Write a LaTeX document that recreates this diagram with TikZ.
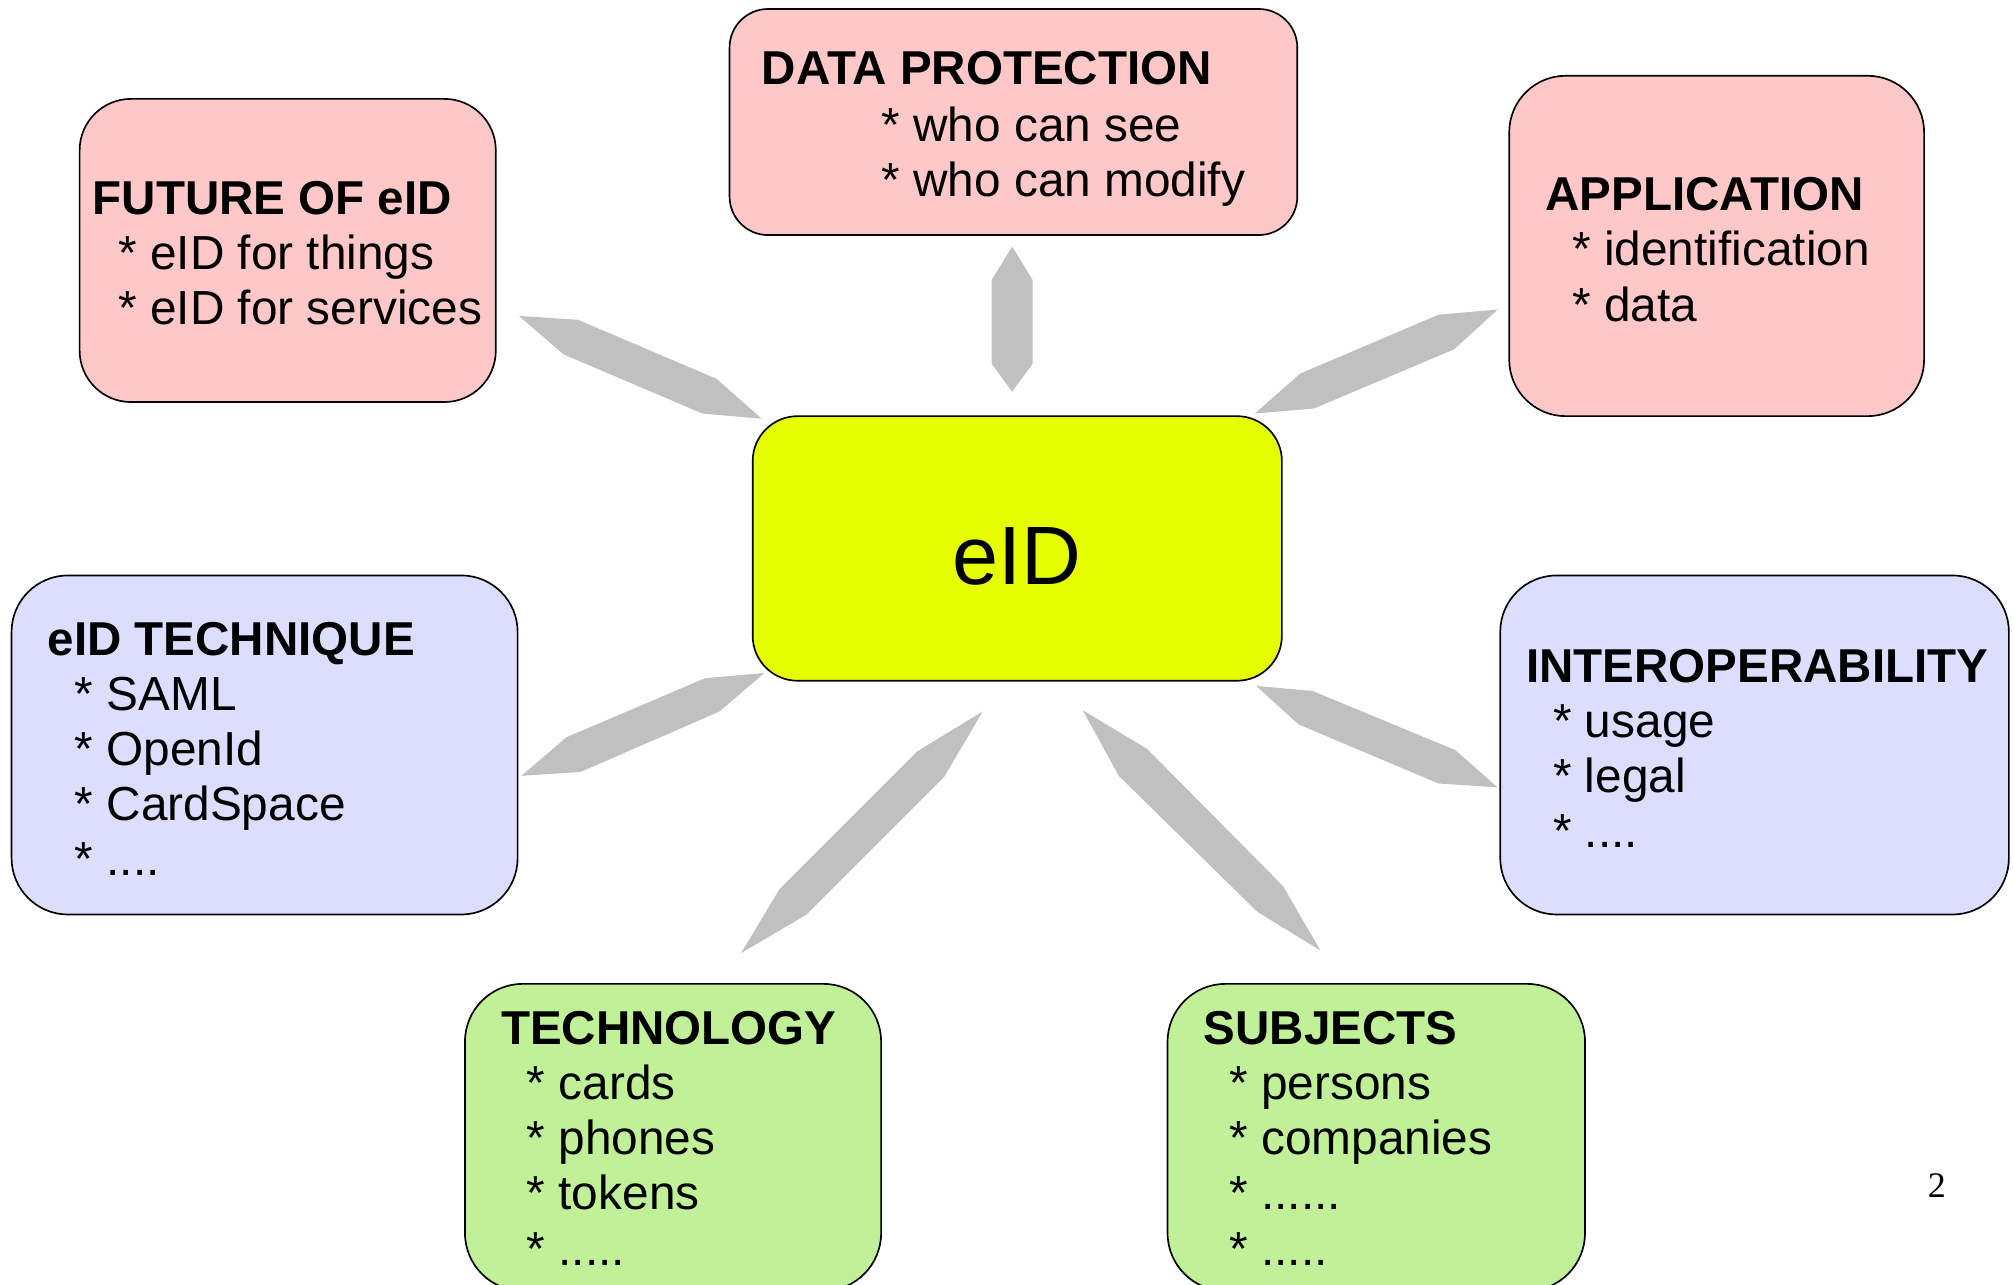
\documentclass[tikz,border=0pt]{standalone}
\usepackage{fontspec}
\setmainfont{Liberation Sans}
\newfontfamily\pagenumfont{Liberation Serif}
\definecolor{pinkbox}{RGB}{255,200,200}
\definecolor{bluebox}{RGB}{221,221,255}
\definecolor{greenbox}{RGB}{192,240,152}
\definecolor{yellowbox}{RGB}{230,255,0}
\definecolor{arrowgray}{RGB}{192,192,192}
\tikzset{
  card/.style={draw=black, line width=1.3pt, rounded corners=#1, inner sep=0pt, outer sep=0pt},
  ttl/.style={font=\bfseries\fontsize{37}{43}\selectfont, anchor=base west, inner sep=0pt},
  itm/.style={font=\fontsize{37.2}{43}\selectfont, anchor=base west, inner sep=0pt},
  blockarrow/.style={fill=arrowgray, draw=none},
}
\begin{document}
\begin{tikzpicture}[x=1pt,y=-1pt]
\clip (0,0) rectangle (1568,1000);
\fill[white] (0,0) rectangle (1568,1000);

% block arrows
\fill[blockarrow] (404,246) -- (450,249) -- (558,295) -- (593,326) -- (547,322) -- (439,276) -- cycle;
\fill[blockarrow] (788,192) -- (804,218) -- (804,283) -- (788,305) -- (772,283) -- (772,218) -- cycle;
\fill[blockarrow] (977,322) -- (1023,318) -- (1132,272) -- (1166,241) -- (1120,245) -- (1012,291) -- cycle;
\fill[blockarrow] (406,604) -- (452,601) -- (560,554) -- (595,524) -- (549,528) -- (441,574) -- cycle;
\fill[blockarrow] (765,554) -- (735,605) -- (628,712) -- (577,742) -- (607,692) -- (714,585) -- cycle;
\fill[blockarrow] (843,553) -- (893,583) -- (999,690) -- (1028,740) -- (979,710) -- (871,604) -- cycle;
\fill[blockarrow] (978,534) -- (1022,538) -- (1133,584) -- (1166,613) -- (1120,610) -- (1011,564) -- cycle;

% boxes
\node[card=40pt, fill=pinkbox, minimum width=324pt, minimum height=236pt] (future) at (224,195) {};
\node[card=30pt, fill=pinkbox, minimum width=442pt, minimum height=176pt] (dataprot) at (789,95) {};
\node[card=44pt, fill=pinkbox, minimum width=323pt, minimum height=265pt] (application) at (1336.5,191.5) {};
\node[card=35pt, fill=yellowbox, minimum width=412pt, minimum height=206pt] (eid) at (792,427) {};
\node[card=44pt, fill=bluebox, minimum width=394pt, minimum height=264pt] (technique) at (206,580) {};
\node[card=44pt, fill=bluebox, minimum width=396pt, minimum height=264pt] (interop) at (1366,580) {};
\node[card=45pt, fill=greenbox, minimum width=324pt, minimum height=239pt] (technology) at (524,885.5) {};
\node[card=45pt, fill=greenbox, minimum width=325pt, minimum height=239pt] (subjects) at (1071.5,885.5) {};

% center label
\node[font=\fontsize{64.5}{70}\selectfont, anchor=base, inner sep=0pt] (eidlabel) at (792,455) {eID};

% FUTURE OF eID
\node[ttl] (fut0) at (72,167) {FUTURE OF eID};
\node[itm] (fut1) at (92,210) {* eID for things};
\node[itm] (fut2) at (92,253) {* eID for services};

% DATA PROTECTION
\node[ttl] (dp0) at (593,66) {DATA PROTECTION};
\node[itm] (dp1) at (686,110) {* who can see};
\node[itm] (dp2) at (686,153) {* who can modify};

% APPLICATION
\node[ttl] (app0) at (1203,164) {APPLICATION};
\node[itm] (app1) at (1224,207) {* identification};
\node[itm] (app2) at (1224,250) {* data};

% eID TECHNIQUE
\node[ttl] (tq0) at (37,510) {eID TECHNIQUE};
\node[itm] (tq1) at (58,553) {* SAML};
\node[itm] (tq2) at (58,596) {* OpenId};
\node[itm] (tq3) at (58,639) {* CardSpace};
\node[itm] (tq4) at (58,682) {* ....};

% INTEROPERABILITY
\node[ttl] (io0) at (1188,531) {INTEROPERABILITY};
\node[itm] (io1) at (1209,574) {* usage};
\node[itm] (io2) at (1209,617) {* legal};
\node[itm] (io3) at (1209,660) {* ....};

% TECHNOLOGY
\node[ttl] (tc0) at (390,813) {TECHNOLOGY};
\node[itm] (tc1) at (410,856) {* cards};
\node[itm] (tc2) at (410,899) {* phones};
\node[itm] (tc3) at (410,942) {* tokens};
\node[itm] (tc4) at (410,985) {* .....};

% SUBJECTS
\node[ttl] (sb0) at (937,813) {SUBJECTS};
\node[itm] (sb1) at (957,856) {* persons};
\node[itm] (sb2) at (957,899) {* companies};
\node[itm] (sb3) at (957,942) {* ......};
\node[itm] (sb4) at (957,985) {* .....};

% page number
\node[font=\pagenumfont\fontsize{28}{30}\selectfont, anchor=base, inner sep=0pt] (pagenum) at (1508,932) {2};
\end{tikzpicture}
\end{document}
